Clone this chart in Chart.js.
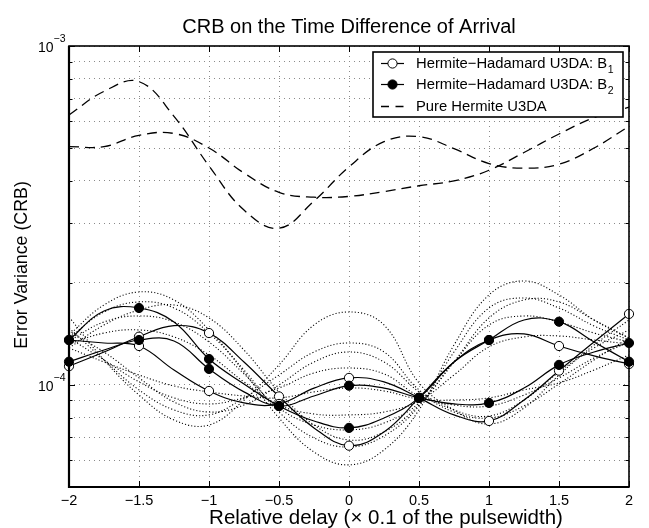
<!DOCTYPE html>
<html><head><meta charset="utf-8">
<script src="https://cdn.jsdelivr.net/npm/chart.js@4/dist/chart.umd.min.js"></script>
<style>html,body{margin:0;padding:0;background:#fff}#wrap{width:649px;height:528px;position:relative}</style>
</head><body><div id="wrap"><canvas id="c"></canvas></div>
<script>
// ---- data ----
const xVals = [-2,-1.75,-1.5,-1.25,-1,-0.75,-0.5,-0.25,0,0.25,0.5,0.75,1,1.25,1.5,1.75,2];
const xTicks = [-2,-1.5,-1,-0.5,0,0.5,1,1.5,2];
const yGridVals = [5e-5,6e-5,7e-5,8e-5,9e-5,1e-4,2e-4,3e-4,4e-4,5e-4,6e-4,7e-4,8e-4,9e-4,1e-3];
const yDecades = [1e-4,1e-3];
const yDecadeExp = ['\u22124','\u22123'];
const UNIT = 1e-4;
// Hermite-Hadamard U3DA: B1 (hollow markers), two curves  (units of 1e-4)
const b1CurveA = [1.357,1.330,1.303,1.107,0.960,0.885,0.879,0.979,1.049,1.021,0.916,0.816,0.783,0.903,1.102,1.339,1.620];
const b1CurveB = [1.136,1.251,1.388,1.496,1.423,1.169,0.925,0.747,0.662,0.727,0.916,1.169,1.357,1.414,1.303,1.218,1.153];
// Hermite-Hadamard U3DA: B2 (filled markers), two curves
const b2CurveA = [1.171,1.268,1.357,1.348,1.115,0.954,0.867,0.928,0.995,0.979,0.916,0.879,0.885,0.979,1.146,1.251,1.330];
const b2CurveB = [1.357,1.653,1.687,1.534,1.193,1.007,0.867,0.783,0.747,0.799,0.916,1.169,1.357,1.555,1.537,1.339,1.171];
// Pure Hermite U3DA (dashed), two curves
const pureA = [6.26,7.35,7.85,6.20,4.43,3.28,2.90,3.49,4.40,5.22,5.40,4.98,4.50,4.36,4.48,5.00,5.80];
const pureB = [5.05,5.05,5.45,5.52,5.00,4.22,3.70,3.58,3.60,3.72,3.87,4.00,4.30,4.85,5.50,6.15,6.60];
// dotted family (units of 1e-4)
const dotQ1 = [1.404,1.722,1.881,1.781,1.453,1.092,0.799,0.634,0.581,0.643,0.844,1.312,1.843,2.027,1.843,1.555,1.376];
const dotQ2 = [1.376,1.642,1.758,1.687,1.423,1.107,0.832,0.698,0.656,0.707,0.867,1.251,1.687,1.806,1.687,1.493,1.357];
const dotQ3 = [1.348,1.534,1.598,1.534,1.339,1.078,0.855,0.762,0.737,0.772,0.885,1.169,1.503,1.598,1.534,1.423,1.339];
const dotQ4 = [1.321,1.423,1.453,1.386,1.226,1.021,0.873,0.821,0.816,0.832,0.897,1.070,1.295,1.386,1.395,1.357,1.321];
const dotQ5 = [1.286,1.503,1.664,1.722,1.577,1.268,0.954,0.762,0.688,0.727,0.873,1.169,1.577,1.781,1.758,1.555,1.376];
const dotP1 = [1.587,1.185,0.934,0.788,0.762,0.903,1.146,1.503,1.642,1.503,1.014,0.844,0.767,0.855,1.070,1.312,1.555];
const dotP2 = [1.473,1.185,0.967,0.844,0.816,0.916,1.070,1.251,1.330,1.251,0.967,0.844,0.810,0.903,1.092,1.286,1.453];
const dotP3 = [1.376,1.185,1.021,0.916,0.879,0.916,0.980,1.085,1.122,1.078,0.928,0.873,0.867,0.934,1.049,1.201,1.339];
const dotP4 = [1.286,1.169,1.070,0.993,0.954,0.928,0.916,0.954,0.980,0.960,0.909,0.903,0.916,0.967,1.014,1.107,1.226];
const dotP5 = [1.433,1.251,1.049,0.891,0.832,0.873,1.000,1.169,1.251,1.169,0.954,0.832,0.799,0.867,1.007,1.185,1.376];

const legendLabels = ['Hermite\u2212Hadamard U3DA: B', 'Hermite\u2212Hadamard U3DA: B', 'Pure Hermite U3DA'];
const legendSubs = ['1','2',''];

const FONT = "'Liberation Sans', Arial, Helvetica, sans-serif";
const pts = a => xVals.map((x,i)=>({x, y:a[i]*UNIT}));
const markerR = xVals.map(x => Number.isInteger(x*2) ? 4.6 : 0);

function dotted(a){ return {data:pts(a), order:4, borderColor:'#000', borderWidth:1.1, borderDash:[1.1,2.1], pointRadius:0, tension:0.4, fill:false, clip:false}; }
function marked(a, filled){ return {data:pts(a), order: filled?1:2, borderColor:'#000', borderWidth:1.2, pointRadius:markerR, pointHoverRadius:markerR, pointBackgroundColor: filled?'#000':'#fff', pointBorderColor:'#000', pointBorderWidth:1, tension:0.4, fill:false, clip:false}; }
function dashed(a){ return {data:pts(a), order:3, borderColor:'#000', borderWidth:1.3, borderDash:[10,6], pointRadius:0, tension:0.4, fill:false, clip:false}; }

const datasets = [
  dotted(dotQ1), dotted(dotQ2), dotted(dotQ3), dotted(dotQ4), dotted(dotQ5),
  dotted(dotP1), dotted(dotP2), dotted(dotP3), dotted(dotP4), dotted(dotP5),
  dashed(pureA), dashed(pureB),
  marked(b1CurveA,false), marked(b1CurveB,false), marked(b2CurveA,true), marked(b2CurveB,true)
];

const deco = {
  id:'deco',
  beforeDraw(chart){ const c=chart.ctx; c.save(); c.fillStyle='#fff'; c.fillRect(0,0,chart.width,chart.height); c.restore(); },
  afterDatasetsDraw(chart){
    const c = chart.ctx, a = chart.chartArea, xs = chart.scales.x, ys = chart.scales.y;
    c.save();
    // inside ticks
    c.strokeStyle='#000'; c.lineWidth=1;
    xTicks.forEach(t=>{ const px=Math.round(xs.getPixelForValue(t))+0.5;
      c.beginPath(); c.moveTo(px,a.bottom); c.lineTo(px,a.bottom-6); c.moveTo(px,a.top); c.lineTo(px,a.top+6); c.stroke(); });
    yGridVals.forEach(v=>{ const py=Math.round(ys.getPixelForValue(v))+0.5; const L = yDecades.includes(v)?6:3.5;
      c.beginPath(); c.moveTo(a.left,py); c.lineTo(a.left+L,py); c.moveTo(a.right,py); c.lineTo(a.right-L,py); c.stroke(); });
    // box
    c.lineWidth=1.6; c.strokeRect(a.left, a.top, a.right-a.left, a.bottom-a.top);
    c.lineWidth=2.2; c.beginPath(); c.moveTo(a.left,a.top); c.lineTo(a.left,a.bottom); c.lineTo(a.right,a.bottom); c.stroke();
    // y decade labels
    c.fillStyle='#000'; c.textBaseline='middle';
    yDecades.forEach((v,i)=>{ const py=ys.getPixelForValue(v);
      c.font='14px '+FONT; c.textAlign='right'; c.fillText('10', 53.5, py+2);
      c.font='10.5px '+FONT; c.textAlign='left'; c.fillText(yDecadeExp[i], 53.5, py-7); });
    // axis titles
    c.font='20.5px '+FONT; c.textAlign='center';
    c.fillText('Relative delay (\u00d7 0.1 of the pulsewidth)', 386, 518);
    c.font='17.8px '+FONT;
    c.save(); c.translate(22, 265); c.rotate(-Math.PI/2); c.fillText('Error Variance (CRB)', 0, 0); c.restore();
    // legend
    const L={x:373, y:52, w:250, h:65};
    c.fillStyle='#fff'; c.fillRect(L.x,L.y,L.w,L.h);
    c.strokeStyle='#000'; c.lineWidth=1.6; c.strokeRect(L.x,L.y,L.w,L.h);
    const rows=[63.5,84.5,106.5];
    rows.forEach((ry,i)=>{
      c.lineWidth = i<2?1.2:1.3; c.setLineDash(i<2?[]:[8,6.5]);
      c.beginPath(); c.moveTo(381,ry); c.lineTo(404,ry); c.stroke(); c.setLineDash([]);
      if(i<2){ c.beginPath(); c.arc(392.5,ry,4.6,0,Math.PI*2); c.fillStyle = i===0?'#fff':'#000'; c.fill(); c.lineWidth=1; c.stroke(); }
      c.fillStyle='#000'; c.font='14.8px '+FONT; c.textAlign='left'; c.textBaseline='middle';
      c.fillText(legendLabels[i], 416, ry);
      if(legendSubs[i]){ const w=c.measureText(legendLabels[i]).width; c.font='10.5px '+FONT; c.fillText(legendSubs[i], 416+w+0.5, ry+6.5); }
    });
    c.restore();
  }
};

new Chart(document.getElementById('c'), {
  type:'line',
  data:{ datasets },
  options:{
    responsive:true, maintainAspectRatio:false, animation:false,
    layout:{ padding:{left:0, right:20, top:0, bottom:0} },
    plugins:{
      legend:{display:false}, tooltip:{enabled:false},
      title:{ display:true, fullSize:false, text:'CRB on the Time Difference of Arrival', color:'#000',
        font:{family:FONT, size:20, weight:'normal', lineHeight:1.2}, padding:{top:15, bottom:7} }
    },
    scales:{
      x:{ type:'linear', min:-2, max:2,
        afterBuildTicks(s){ s.ticks = xTicks.map(v=>({value:v})); },
        afterFit(s){ s.height = 41; },
        ticks:{ color:'#000', font:{family:FONT, size:14.5}, padding:5, maxRotation:0,
          callback:v => (v<0?'\u2212':'') + String(Math.abs(v)) },
        grid:{ color:'#8a8a8a', lineWidth:1, drawTicks:false },
        border:{ display:false }
      },
      y:{ type:'logarithmic', min:5e-5, max:1e-3,
        afterBuildTicks(s){ s.ticks = yGridVals.map(v=>({value:v})); },
        afterFit(s){ s.width = 69; },
        ticks:{ display:false },
        grid:{ color:'#8a8a8a', lineWidth:1, drawTicks:false },
        border:{ display:false }
      }
    }
  },
  plugins:[deco]
});
</script>
<script>
(function(){ const ch = Chart.getChart('c'); ch.options.scales.x.grid.borderDash=[1,4]; ch.options.scales.y.grid.borderDash=[1,4];
 ch.options.scales.x.border.dash=[1,4]; ch.options.scales.y.border.dash=[1,4]; ch.update('none'); })();
</script>
</body></html>
